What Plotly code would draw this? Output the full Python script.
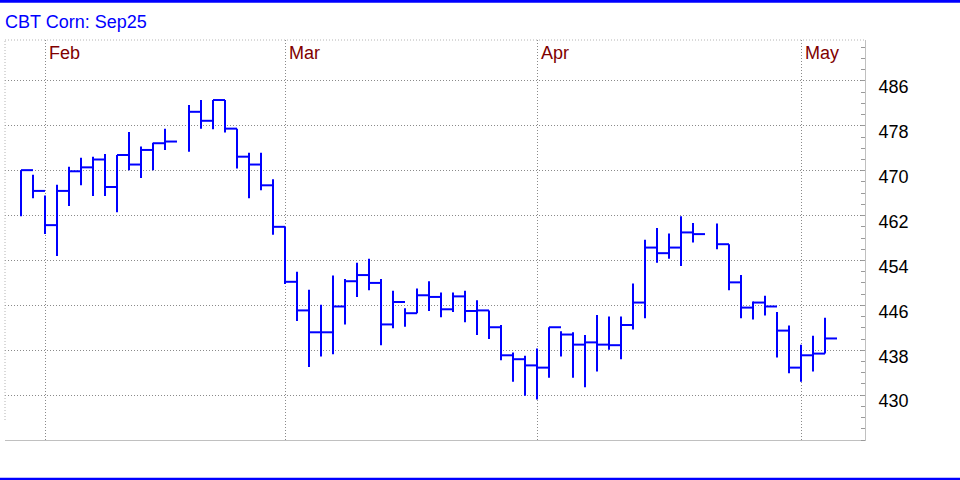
import plotly.graph_objects as go
import pandas as pd

# ---- data (CBT Corn Sep25 daily bars: high / low / close) ----
dates = [
    "2025-01-29", "2025-01-30", "2025-01-31",
    "2025-02-03", "2025-02-04", "2025-02-05", "2025-02-06", "2025-02-07",
    "2025-02-10", "2025-02-11", "2025-02-12", "2025-02-13", "2025-02-14",
    "2025-02-18", "2025-02-19", "2025-02-20", "2025-02-21",
    "2025-02-24", "2025-02-25", "2025-02-26", "2025-02-27", "2025-02-28",
    "2025-03-03", "2025-03-04", "2025-03-05", "2025-03-06", "2025-03-07",
    "2025-03-10", "2025-03-11", "2025-03-12", "2025-03-13", "2025-03-14",
    "2025-03-17", "2025-03-18", "2025-03-19", "2025-03-20", "2025-03-21",
    "2025-03-24", "2025-03-25", "2025-03-26", "2025-03-27", "2025-03-28",
    "2025-03-31", "2025-04-01", "2025-04-02", "2025-04-03", "2025-04-04",
    "2025-04-07", "2025-04-08", "2025-04-09", "2025-04-10", "2025-04-11",
    "2025-04-14", "2025-04-15", "2025-04-16", "2025-04-17",
    "2025-04-21", "2025-04-22", "2025-04-23", "2025-04-24", "2025-04-25",
    "2025-04-28", "2025-04-29", "2025-04-30", "2025-05-01", "2025-05-02",
]
highs = [
    470.1, 469.3, 465.6,
    467.5, 470.7, 472.3, 472.5, 473.0,
    472.8, 476.9, 474.3, 475.0, 477.5,
    481.7, 482.6, 482.6, 482.6,
    477.5, 473.2, 473.2, 468.5, 460.0,
    452.0, 448.8, 446.1, 451.3, 450.7,
    453.6, 454.3, 450.7, 448.6, 445.5,
    449.0, 450.3, 448.3, 448.3, 448.6,
    446.9, 445.1, 442.5, 437.6, 437.0,
    438.3, 442.1, 441.4, 441.2, 440.7,
    444.3, 444.0, 444.0, 449.9, 457.7,
    459.8, 458.8, 461.9, 460.7,
    460.6, 456.9, 451.4, 446.7, 447.7,
    444.8, 442.4, 439.0, 440.6, 443.8,
]
lows = [
    461.9, 465.1, 458.7,
    454.8, 463.7, 467.4, 465.5, 465.5,
    462.6, 470.1, 468.7, 470.1, 473.7,
    473.4, 477.5, 477.4, 476.8,
    470.4, 465.1, 466.5, 458.6, 449.8,
    443.2, 435.0, 436.9, 437.3, 442.6,
    447.5, 448.7, 438.9, 441.9, 442.2,
    444.6, 445.0, 443.9, 444.8, 443.0,
    440.7, 440.0, 436.2, 432.4, 429.9,
    429.2, 433.1, 436.9, 433.1, 431.4,
    434.2, 438.1, 436.4, 441.7, 443.7,
    453.6, 454.3, 453.0, 457.2,
    456.0, 448.7, 443.7, 443.5, 444.2,
    436.7, 433.9, 432.4, 434.2, 437.4,
]
closes = [
    470.1, 466.4, 460.3,
    466.4, 469.9, 470.6, 472.0, 467.1,
    472.8, 471.1, 473.7, 474.9, 475.2,
    480.5, 478.9, 482.6, 477.5,
    472.5, 471.1, 467.4, 460.0, 450.2,
    445.1, 441.2, 441.2, 445.8, 450.3,
    451.4, 450.0, 442.6, 446.6, 444.6,
    447.8, 447.5, 445.3, 447.6, 445.0,
    445.1, 442.1, 437.1, 436.4, 435.3,
    434.9, 442.1, 440.8, 439.0, 439.4,
    439.0, 438.9, 442.5, 446.5, 456.3,
    455.3, 456.3, 459.0, 458.7,
    456.9, 450.1, 445.6, 446.5, 445.8,
    441.5, 434.9, 437.1, 437.4, 440.1,
]
month_labels = ["Feb", "Mar", "Apr", "May"]
month_starts = ["2025-02-01", "2025-03-01", "2025-04-01", "2025-05-01"]
price_ticks = [430, 438, 446, 454, 462, 470, 478, 486]
title_text = "CBT Corn: Sep25"

# ---- positions: one slot per weekday (holidays left empty) ----
calendar = list(pd.bdate_range(dates[0], dates[-1]).strftime("%Y-%m-%d"))
slot = {d: i for i, d in enumerate(calendar)}

xs, ys = [], []
for d, h, l, c in zip(dates, highs, lows, closes):
    s = slot[d]
    xs += [s, s, None, s, s + 1, None]
    ys += [l, h, None, c, c, None]

# month separators at the last trading day before each month
month_pos = [max(slot[d] for d in dates if d < ms) for ms in month_starts]

BLUE = "#0000FF"
FONT = "Arial, Liberation Sans, sans-serif"

fig = go.Figure()
fig.add_trace(go.Scatter(
    x=xs, y=ys, mode="lines",
    line=dict(color=BLUE, width=2),
    connectgaps=False, hoverinfo="skip", showlegend=False,
))

shapes = [
    # top dotted border
    dict(type="line", xref="paper", yref="paper", x0=0, x1=1, y0=1, y1=1,
         line=dict(color="#b4b4b4", width=1, dash="1px,2px")),
    # left dotted border
    dict(type="line", xref="paper", yref="paper", x0=0, x1=0, y0=0.05, y1=1,
         line=dict(color="#b4b4b4", width=1, dash="1px,2px")),
    # blue frame bars
    dict(type="rect", xref="paper", yref="paper", x0=-0.01, x1=1.12,
         y0=1.0933, y1=1.12, line=dict(width=0), fillcolor=BLUE),
    dict(type="rect", xref="paper", yref="paper", x0=-0.01, x1=1.12,
         y0=-0.12, y1=-0.0943, line=dict(width=0), fillcolor=BLUE),
]

annotations = [
    dict(x=p, xref="x", y=0.9675, yref="paper", text=lab, showarrow=False,
         xanchor="left", yanchor="middle", xshift=2,
         font=dict(family=FONT, size=18, color="#800000"))
    for p, lab in zip(month_pos, month_labels)
]

fig.update_layout(
    width=960, height=480,
    margin=dict(l=5, r=95, t=40, b=40),
    paper_bgcolor="white", plot_bgcolor="white",
    title=dict(text=title_text, x=5 / 960, xanchor="left", xref="container",
               y=1 - 21.5 / 480, yanchor="middle", yref="container",
               font=dict(family=FONT, size=18, color=BLUE)),
    shapes=shapes,
    annotations=annotations,
    xaxis=dict(
        range=[-1.333, 70.333], tickvals=month_pos, showticklabels=False,
        ticks="", showgrid=True, gridcolor="#8a8a8a", gridwidth=1,
        griddash="1px,2px", zeroline=False,
        showline=True, linecolor="#c0c0c0", linewidth=1,
    ),
    yaxis=dict(
        side="right", range=[422.0, 493.3],
        tickvals=price_ticks, ticktext=[str(v) for v in price_ticks],
        ticks="", showgrid=True, gridcolor="#8a8a8a", gridwidth=1,
        griddash="1px,2px", zeroline=False,
        showline=True, linecolor="#c0c0c0", linewidth=1,
        tickfont=dict(family=FONT, size=18, color="black"),
        ticklabelshift=6, ticklabelstandoff=9,
        minor=dict(tick0=430, dtick=2, ticks="inside", ticklen=4,
                   tickcolor="#9a9a9a", tickwidth=1, showgrid=False),
    ),
    font=dict(family=FONT),
)

fig.write_html("out.html", config={"displayModeBar": False},
               post_script="document.body.style.margin='0';")
